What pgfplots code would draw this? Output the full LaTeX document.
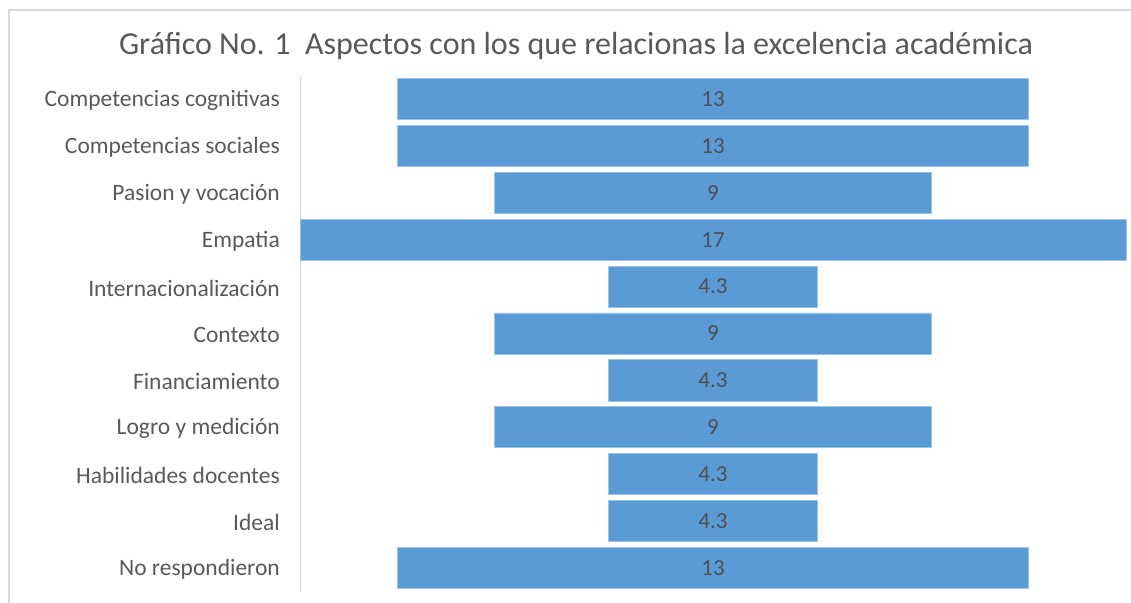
\documentclass[border=0pt]{standalone}
\usepackage{pgfplots}
\pgfplotsset{compat=1.18}
\usepackage{pgfplotstable}
\usepackage{fontspec}
\setmainfont{Carlito}
\definecolor{barblue}{HTML}{5B9BD5}
\definecolor{txt}{HTML}{595959}
\definecolor{lbl}{HTML}{505050}
\definecolor{axgray}{HTML}{D9D9D9}

\pgfplotstableread{
y off v label
0 2 13 13
1 2 13 13
2 4 9 9
3 0 17 17
4 6.35 4.3 4.3
5 4 9 9
6 6.35 4.3 4.3
7 4 9 9
8 6.35 4.3 4.3
9 6.35 4.3 4.3
10 2 13 13
}\data

\begin{document}
\begin{tikzpicture}
\path[use as bounding box] (0,0) rectangle (1131bp,603bp);
\draw[axgray, line width=2bp] (9bp,0) -- (9bp,593bp) -- (1131bp,593bp);
\node[text=txt, font=\fontsize{32bp}{36bp}\selectfont] at (576bp,557bp) {Gráfico No. 1\ \ Aspectos con los que relacionas la excelencia académica};
\begin{axis}[
  at={(300bp,11.5bp)}, anchor=south west,
  scale only axis, width=826bp, height=516bp,
  xmin=0, xmax=17, ymin=-0.5, ymax=10.5,
  y dir=reverse,
  xbar stacked, bar width=0.875,
  axis lines*=left,
  x axis line style={draw=none},
  y axis line style={axgray, line width=1bp},
  xtick=\empty,
  ytick={0,...,10},
  yticklabels={Competencias cognitivas, Competencias sociales, Pasion y vocación, Empatia, Internacionalización, Contexto, Financiamiento, Logro y medición, Habilidades docentes, Ideal, No respondieron},
  major tick length=0,
  yticklabel style={font=\fontsize{23.5bp}{28bp}\selectfont, text=txt, inner sep=0pt, xshift=-20bp, yshift=-1.5bp, anchor=east},
  clip=false,
]
\addplot[draw=none, fill=none] table[x=off, y=y] {\data};
\addplot[fill=barblue, draw=barblue!60!white, line width=0.8bp] table[x=v, y=y] {\data};
\end{axis}
\begin{axis}[
  at={(300bp,11.5bp)}, anchor=south west,
  scale only axis, width=826bp, height=516bp,
  xmin=0, xmax=17, ymin=-0.5, ymax=10.5,
  y dir=reverse, hide axis, clip=false,
]
\addplot[only marks, mark=none, nodes near coords, point meta=explicit symbolic,
  nodes near coords align=center,
  every node near coord/.style={anchor=center, text=lbl, font=\fontsize{23bp}{27bp}\selectfont, inner sep=0pt}]
  table[x expr=8.5, y=y, meta=label] {\data};
\end{axis}
\end{tikzpicture}
\end{document}
